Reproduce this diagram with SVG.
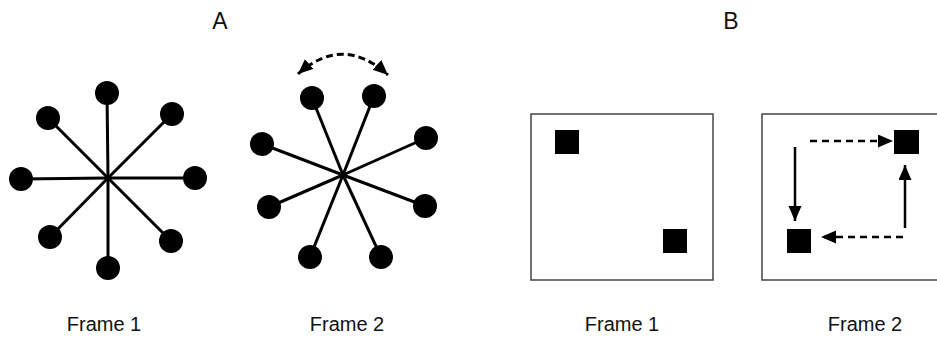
<svg xmlns="http://www.w3.org/2000/svg" width="937" height="338" viewBox="0 0 937 338">
  <style>
    .title { font-family: "Liberation Sans", Arial, sans-serif; font-size: 23px; fill: #111; text-anchor: middle; }
    .label { font-family: "Liberation Sans", Arial, sans-serif; font-size: 20px; fill: #111; text-anchor: middle; }
    .spoke { stroke: #000; stroke-width: 3; fill: none; }
    .ball { fill: #000; }
    .frame { fill: #fff; stroke: #444; stroke-width: 1.5; }
    .block { fill: #000; }
    .move { stroke: #000; stroke-width: 2.5; fill: none; }
    .dashed { stroke-dasharray: 7 5; }
    .swing { stroke: #000; stroke-width: 3; fill: none; stroke-dasharray: 7 4; }
  </style>
  <defs>
    <marker id="head" markerUnits="userSpaceOnUse" markerWidth="16" markerHeight="14" refX="15" refY="6.5" orient="auto-start-reverse">
      <path d="M0,0 L15,6.5 L0,13 z" fill="#000"/>
    </marker>
  </defs>
  <rect width="937" height="338" fill="#fff"/>

  <!-- panel titles -->
  <text class="title" x="220" y="28.5">A</text>
  <text class="title" x="731" y="28.5">B</text>

  <!-- A, frame 1: eight-spoke star -->
  <g id="starA1">
    <g class="spoke">
      <line x1="108" y1="178" x2="107" y2="93"/>
      <line x1="108" y1="178" x2="108" y2="268"/>
      <line x1="108" y1="178" x2="21" y2="179"/>
      <line x1="108" y1="178" x2="195" y2="178"/>
      <line x1="108" y1="178" x2="48" y2="118"/>
      <line x1="108" y1="178" x2="172" y2="114"/>
      <line x1="108" y1="178" x2="50" y2="237"/>
      <line x1="108" y1="178" x2="171" y2="241"/>
    </g>
    <g class="ball">
      <circle cx="107" cy="93" r="12"/>
      <circle cx="108" cy="268" r="12"/>
      <circle cx="21" cy="179" r="12"/>
      <circle cx="195" cy="178" r="12"/>
      <circle cx="48" cy="118" r="12"/>
      <circle cx="172" cy="114" r="12"/>
      <circle cx="50" cy="237" r="12"/>
      <circle cx="171" cy="241" r="12"/>
    </g>
  </g>

  <!-- A, frame 2: rotated star -->
  <g id="starA2">
    <g class="spoke">
      <line x1="343" y1="175" x2="312" y2="98"/>
      <line x1="343" y1="175" x2="374" y2="96"/>
      <line x1="343" y1="175" x2="262" y2="144"/>
      <line x1="343" y1="175" x2="426" y2="138"/>
      <line x1="343" y1="175" x2="269" y2="207"/>
      <line x1="343" y1="175" x2="425" y2="206"/>
      <line x1="343" y1="175" x2="310" y2="257"/>
      <line x1="343" y1="175" x2="381" y2="257"/>
    </g>
    <g class="ball">
      <circle cx="312" cy="98" r="12"/>
      <circle cx="374" cy="96" r="12"/>
      <circle cx="262" cy="144" r="12"/>
      <circle cx="426" cy="138" r="12"/>
      <circle cx="269" cy="207" r="12"/>
      <circle cx="425" cy="206" r="12"/>
      <circle cx="310" cy="257" r="12"/>
      <circle cx="381" cy="257" r="12"/>
    </g>
  </g>

  <!-- B, frame 1 -->
  <g id="boxB1">
    <rect class="frame" x="531" y="114" width="182" height="166"/>
    <rect class="block" x="555" y="130" width="24" height="24"/>
    <rect class="block" x="663" y="229" width="24" height="24"/>
  </g>

  <!-- B, frame 2 -->
  <g id="boxB2">
    <rect class="frame" x="762" y="114" width="182" height="166"/>
    <rect class="block" x="894" y="130" width="25" height="24"/>
    <rect class="block" x="787" y="229" width="24" height="24"/>
  </g>

  <!-- connectors -->
  <g id="connectors">
    <path class="swing" d="M298,74 Q343,34 388,75" marker-start="url(#head)" marker-end="url(#head)"/>
    <path class="move dashed" d="M810,141 H893" marker-end="url(#head)"/>
    <path class="move" d="M795,147 V221" marker-end="url(#head)"/>
    <path class="move" d="M905,228 V165" marker-end="url(#head)"/>
    <path class="move dashed" d="M903,237 H821" marker-end="url(#head)"/>
  </g>

  <!-- frame captions -->
  <text class="label" x="104" y="331">Frame 1</text>
  <text class="label" x="347" y="331">Frame 2</text>
  <text class="label" x="622" y="331">Frame 1</text>
  <text class="label" x="865" y="331">Frame 2</text>
</svg>
